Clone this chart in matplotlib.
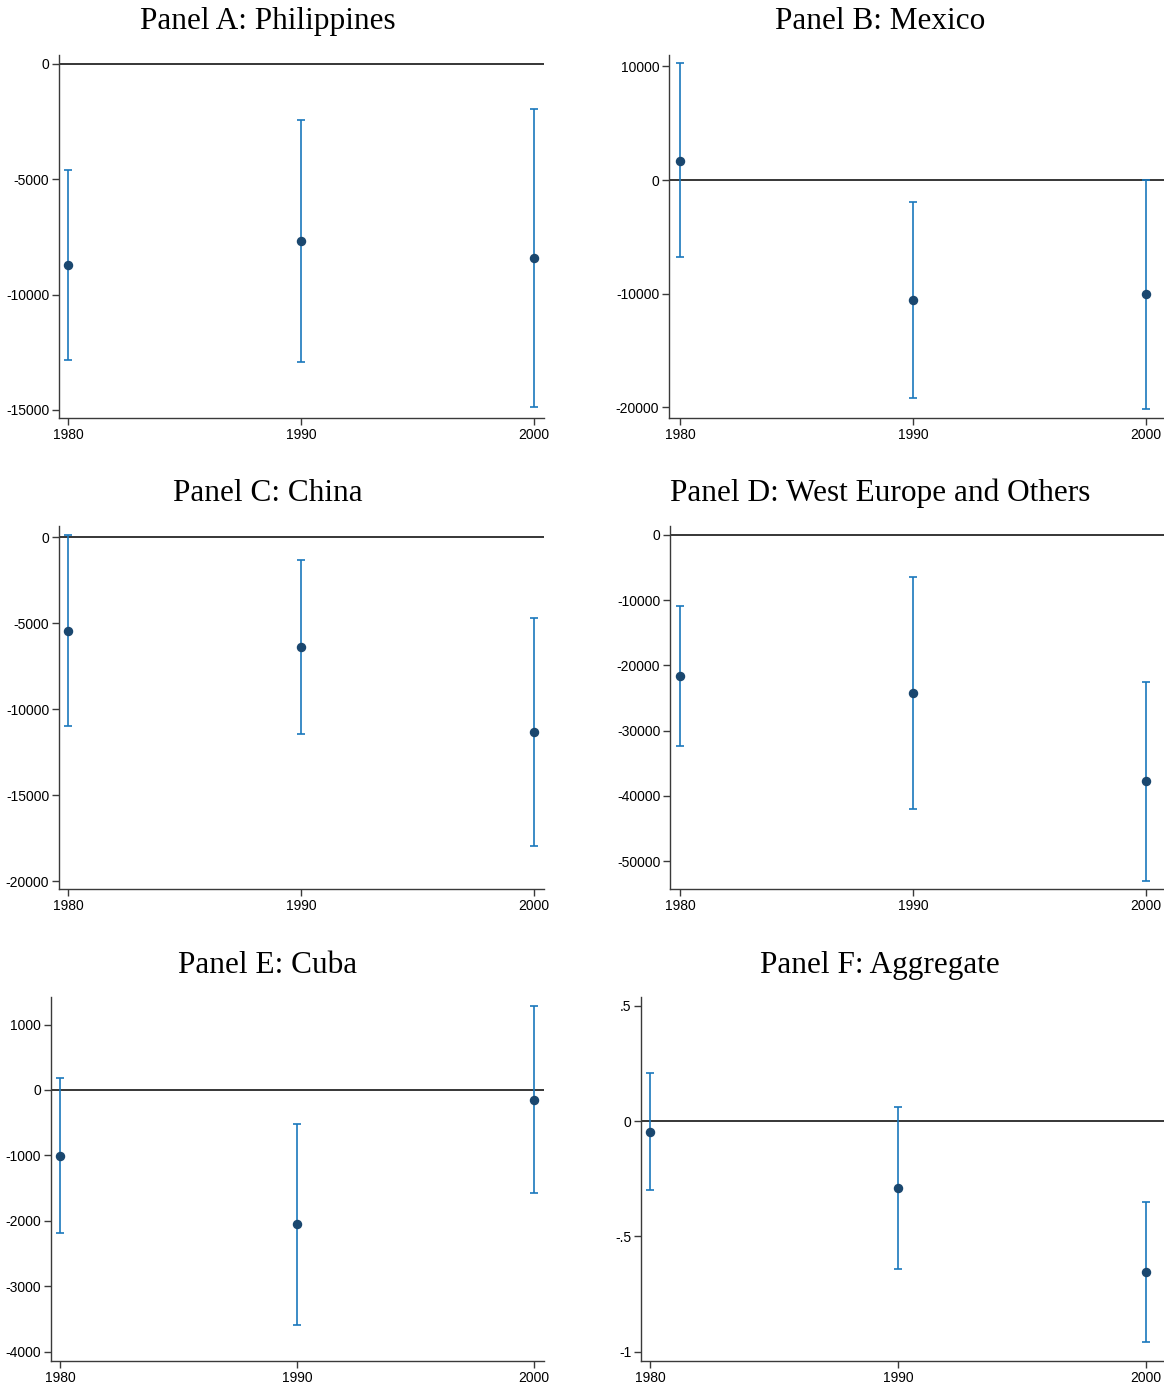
import matplotlib
matplotlib.use("Agg")
import matplotlib.pyplot as plt
import numpy as np

# ---------------- data ----------------
years = [1980, 1990, 2000]

titles = ["Panel A: Philippines", "Panel B: Mexico", "Panel C: China",
          "Panel D: West Europe and Others", "Panel E: Cuba", "Panel F: Aggregate"]

phil_est = [-8716, -7676, -8413]
phil_lo = [-12836, -12923, -14874]
phil_hi = [-4597, -2428, -1951]

mex_est = [1671, -10554, -10026]
mex_lo = [-6772, -19173, -20140]
mex_hi = [10290, -1935, 0]

chn_est = [-5465, -6395, -11337]
chn_lo = [-10988, -11453, -17965]
chn_hi = [116, -1337, -4709]

weu_est = [-21626, -24233, -37730]
weu_lo = [-32362, -42025, -53067]
weu_hi = [-10890, -6442, -22546]

cuba_est = [-1009, -2049, -153]
cuba_lo = [-2187, -3593, -1575]
cuba_hi = [183, -520, 1284]

agg_est = [-0.048, -0.290, -0.655]
agg_lo = [-0.299, -0.642, -0.958]
agg_hi = [0.208, 0.061, -0.351]

yticks_A = [0, -5000, -10000, -15000]
yticks_B = [10000, 0, -10000, -20000]
yticks_C = [0, -5000, -10000, -15000, -20000]
yticks_D = [0, -10000, -20000, -30000, -40000, -50000]
yticks_E = [1000, 0, -1000, -2000, -3000, -4000]
yticks_F = [0.5, 0, -0.5, -1]
yticklabels_F = [".5", "0", "-.5", "-1"]

# ---------------- layout / style ----------------
W, H = 1164, 1387
DPI = 100
fig = plt.figure(figsize=(W / DPI, H / DPI), dpi=DPI)
fig.patch.set_facecolor("white")

POINT_COLOR = "#1a476f"
BAR_COLOR = "#1a78bc"
SPINE_COLOR = "#3a3a3a"

# pixel boxes: left, top, right, bottom
boxes = [
    (59, 55, 544, 418),
    (669, 55, 1164, 418),
    (59, 526, 544, 889),
    (670, 526, 1164, 889),
    (51, 997, 544, 1361),
    (641, 997, 1164, 1361),
]
xlims = [
    (1979.614, 2000.43),
    (1979.53, 2000.77),
    (1979.614, 2000.43),
    (1979.57, 2000.77),
    (1979.62, 2000.42),
    (1979.64, 2000.73),
]
ylims = [
    (-15351, 390),
    (-20932, 10994),
    (-20465, 640),
    (-54294, 1380),
    (-4144, 1422),
    (-1.041, 0.538),
]
title_pos = [(268, 29), (880, 29), (268, 501), (880, 501), (268, 973), (880, 973)]

panels = [
    (phil_est, phil_lo, phil_hi, yticks_A, [str(v) for v in yticks_A]),
    (mex_est, mex_lo, mex_hi, yticks_B, [str(v) for v in yticks_B]),
    (chn_est, chn_lo, chn_hi, yticks_C, [str(v) for v in yticks_C]),
    (weu_est, weu_lo, weu_hi, yticks_D, [str(v) for v in yticks_D]),
    (cuba_est, cuba_lo, cuba_hi, yticks_E, [str(v) for v in yticks_E]),
    (agg_est, agg_lo, agg_hi, yticks_F, yticklabels_F),
]

for i, (est, lo, hi, yt, ytl) in enumerate(panels):
    l, t, r, b = boxes[i]
    ax = fig.add_axes([l / W, 1 - b / H, (r - l) / W, (b - t) / H])
    ax.set_facecolor("white")
    est = np.asarray(est, float)
    lo = np.asarray(lo, float)
    hi = np.asarray(hi, float)
    ax.axhline(0, color="black", lw=1.1, zorder=1)
    ax.errorbar(years, est, yerr=[est - lo, hi - est], fmt="none",
                ecolor=BAR_COLOR, elinewidth=1.2, capsize=3.2, capthick=1.2, zorder=2)
    ax.plot(years, est, "o", color=POINT_COLOR, ms=5.8, zorder=3)
    ax.set_xlim(*xlims[i])
    ax.set_ylim(*ylims[i])
    ax.set_xticks(years)
    ax.set_xticklabels([str(y) for y in years], fontsize=10, family="Liberation Sans")
    ax.set_yticks(yt)
    ax.set_yticklabels(ytl, fontsize=10, family="Liberation Sans")
    for s in ["top", "right"]:
        ax.spines[s].set_visible(False)
    for s in ["left", "bottom"]:
        ax.spines[s].set_color(SPINE_COLOR)
        ax.spines[s].set_linewidth(1.0)
    ax.tick_params(axis="both", direction="out", length=5, width=1.0,
                   color=SPINE_COLOR, pad=2, labelcolor="black")
    ax.grid(False)
    tx, ty = title_pos[i]
    fig.text(tx / W, 1 - ty / H, titles[i], ha="center", va="baseline",
             fontsize=22.5, family="Liberation Serif", color="black")

fig.savefig("out.png", dpi=DPI, facecolor="white")
